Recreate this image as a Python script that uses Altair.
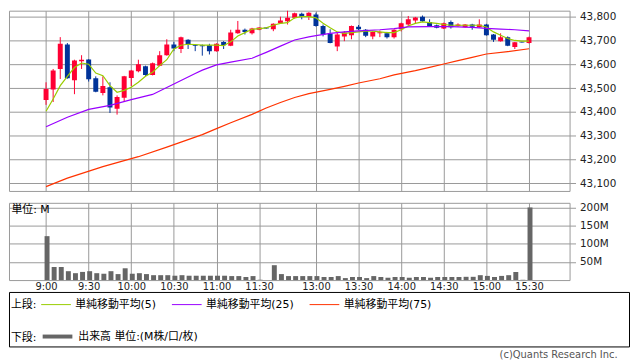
import json
import altair as alt
import pandas as pd

# ---------------- data ----------------
idx = list(range(69))
open_ = [43451, 43495, 43581, 43684, 43534, 43613, 43621, 43542, 43480, 43504,
         43414, 43460, 43543, 43571, 43592, 43556, 43595, 43639, 43684, 43665,
         43704, 43683, 43681, 43681, 43656, 43695, 43679, 43731, 43746, 43731,
         43746, 43755, 43748, 43773, 43782, 43796, 43813, 43801, 43810, 43762,
         43729, 43676, 43718, 43723, 43759, 43746, 43718, 43731, 43731, 43715,
         43748, 43768, 43785, 43801, 43779, 43765, 43751, 43779, 43762, 43757,
         43768, 43757, 43768, 43726, 43698, 43715, 43673, 43696, 43690]
high = [43525, 43581, 43715, 43690, 43620, 43639, 43622, 43550, 43550, 43525,
        43470, 43552, 43577, 43620, 43595, 43608, 43656, 43706, 43695, 43717,
        43706, 43684, 43684, 43687, 43689, 43698, 43746, 43783, 43751, 43754,
        43757, 43756, 43773, 43801, 43835, 43818, 43818, 43820, 43818, 43768,
        43748, 43734, 43740, 43764, 43766, 43749, 43739, 43743, 43737, 43748,
        43776, 43804, 43800, 43806, 43790, 43768, 43776, 43785, 43773, 43770,
        43771, 43790, 43771, 43728, 43731, 43718, 43695, 43696, 43717]
low = [43430, 43442, 43539, 43540, 43475, 43581, 43528, 43483, 43470, 43396,
       43389, 43442, 43509, 43567, 43552, 43554, 43593, 43637, 43656, 43648,
       43665, 43656, 43637, 43642, 43654, 43665, 43677, 43729, 43726, 43726,
       43744, 43750, 43740, 43771, 43768, 43793, 43790, 43787, 43759, 43718,
       43689, 43656, 43698, 43706, 43745, 43715, 43706, 43715, 43709, 43709,
       43739, 43762, 43771, 43779, 43759, 43752, 43749, 43751, 43759, 43755,
       43746, 43755, 43721, 43695, 43696, 43677, 43665, 43692, 43688]
close = [43497, 43575, 43687, 43542, 43617, 43620, 43538, 43485, 43509, 43419,
         43463, 43550, 43575, 43601, 43556, 43605, 43639, 43684, 43667, 43715,
         43684, 43679, 43677, 43656, 43687, 43681, 43734, 43746, 43737, 43751,
         43755, 43751, 43771, 43785, 43796, 43815, 43801, 43818, 43762, 43726,
         43690, 43726, 43734, 43762, 43748, 43721, 43737, 43735, 43715, 43746,
         43773, 43790, 43798, 43782, 43762, 43754, 43773, 43757, 43768, 43768,
         43759, 43768, 43723, 43704, 43715, 43679, 43693, 43692, 43715]
volume = [121, 36, 36, 24.5, 19, 22.5, 24.5, 19, 17.5, 24.5,
          16.5, 32.5, 17.5, 19, 16.5, 13.5, 13.5, 13.5, 12, 13.5,
          12, 12, 12, 12, 12, 12, 11, 11, 8.5, 11,
          0.8, 0, 41, 16.5, 11, 11, 11, 11, 11, 8.5,
          8.5, 11, 5.5, 8.5, 8.5, 5.5, 11, 8.5, 6.5, 8.5,
          8.5, 6.5, 8.5, 8.5, 6.5, 8.5, 8.5, 8.5, 8.5, 9,
          9, 13.5, 11.5, 8.5, 11.5, 13.5, 22, 0.8, 200]
ma5 = [43403, 43455, 43511, 43550, 43587, 43606, 43601, 43564, 43553, 43511,
       43483, 43491, 43504, 43525, 43550, 43567, 43595, 43620, 43665, 43681,
       43685, 43684, 43681, 43681, 43681, 43679, 43695, 43720, 43734, 43748,
       43751, 43754, 43765, 43773, 43776, 43796, 43801, 43801, 43796, 43773,
       43754, 43737, 43731, 43734, 43737, 43740, 43740, 43737, 43734, 43734,
       43746, 43762, 43773, 43779, 43776, 43773, 43768, 43765, 43765, 43765,
       43765, 43765, 43757, 43737, 43723, 43709, 43701, 43698, 43698]
ma25_idx = [0, 3, 6, 9, 12, 15, 18, 21, 22, 24, 26, 29, 31, 33, 35, 37, 38,
            40, 42, 44, 47, 49, 51, 54, 57, 60, 62, 64, 66, 68]
ma25 = [43338, 43378, 43411, 43428, 43452, 43474, 43518, 43562, 43576, 43598,
        43610, 43626, 43651, 43677, 43703, 43716, 43721, 43731, 43737, 43741,
        43746, 43751, 43758, 43759, 43759, 43756, 43752, 43749, 43746, 43741]
ma75_idx = [0, 3, 8, 13, 17, 22, 24, 26, 29, 31, 33, 35, 37, 40, 42, 44, 47,
            49, 52, 54, 56, 58, 60, 62, 65, 68]
ma75 = [43086, 43122, 43170, 43212, 43252, 43305, 43330, 43355, 43390, 43417,
        43440, 43461, 43477, 43495, 43508, 43522, 43540, 43556, 43574, 43588,
        43602, 43616, 43630, 43644, 43654, 43666]

tick_idx = [0, 6, 12, 18, 24, 30, 38, 44, 50, 56, 62, 68]
tick_labels = ["9:00", "9:30", "10:00", "10:30", "11:00", "11:30",
               "13:00", "13:30", "14:00", "14:30", "15:00", "15:30"]
price_ticks = [43100, 43200, 43300, 43400, 43500, 43600, 43700, 43800]
vol_ticks = [50, 100, 150, 200]
ma_names = ["単純移動平均(5)", "単純移動平均(25)", "単純移動平均(75)"]
ma_colors = ["#99CC00", "#9900FF", "#FF3300"]
vol_name = "出来高 単位:(M株/口/枚)"
up_color, down_color = "#FF0033", "#003399"

# ---------------- tables ----------------
cdf = pd.DataFrame({"idx": idx, "open": open_, "high": high, "low": low, "close": close})
cdf["col"] = [up_color if c >= o else down_color for o, c in zip(open_, close)]

vdf = pd.DataFrame({"idx": idx, "vol": volume})
vdf = vdf[vdf["vol"] > 0].copy()
vdf["kind"] = vol_name

madf = pd.concat([
    pd.DataFrame({"idx": idx, "val": ma5, "series": ma_names[0]}),
    pd.DataFrame({"idx": ma25_idx, "val": ma25, "series": ma_names[1]}),
    pd.DataFrame({"idx": ma75_idx, "val": ma75, "series": ma_names[2]}),
])

GRID = "#999999"
FONT = "DejaVu Sans"
JFONT = "DejaVu Sans, Noto Sans CJK JP"
W = 566
NBSP = "\u00a0"

xs = alt.Scale(domain=[-4.521, 73.014], nice=False, zero=False)
ys = alt.Scale(domain=[43067.9, 43826.25], nice=False, zero=False)
vys = alt.Scale(domain=[0, 212.8], nice=False, zero=False)

label_expr = "%s[indexof(%s, datum.value)]" % (json.dumps(tick_labels), json.dumps(tick_idx))
legend_label_expr = "datum.label == '%s' ? datum.label + '%s' : datum.label" % (
    ma_names[1], NBSP * 6)

# ---------------- upper panel ----------------
x_axis_up = alt.Axis(values=tick_idx, labels=False, ticks=False, domain=False,
                     grid=True, gridColor=GRID, title=None)
y_axis_up = alt.Axis(orient="right", values=price_ticks, format=",d", title=None,
                     domain=False, grid=True, gridColor=GRID, tickColor=GRID,
                     tickSize=6, labelPadding=4, labelFont=FONT, labelFontSize=10.5,
                     labelColor="#222222")

wick = alt.Chart(cdf).mark_rule(strokeWidth=1, clip=True).encode(
    x=alt.X("idx:Q", scale=xs, axis=x_axis_up),
    y=alt.Y("low:Q", scale=ys, axis=y_axis_up),
    y2="high:Q", color=alt.Color("col:N", scale=None))
body = alt.Chart(cdf).mark_bar(size=5, clip=True).encode(
    x=alt.X("idx:Q", scale=xs, axis=x_axis_up),
    y=alt.Y("open:Q", scale=ys, axis=y_axis_up),
    y2="close:Q", color=alt.Color("col:N", scale=None))
lines = alt.Chart(madf).mark_line(strokeWidth=1.2, clip=True).encode(
    x=alt.X("idx:Q", scale=xs, axis=x_axis_up),
    y=alt.Y("val:Q", scale=ys, axis=y_axis_up),
    order="idx:Q",
    stroke=alt.Stroke("series:N", scale=alt.Scale(domain=ma_names, range=ma_colors),
                      legend=alt.Legend(title="上段:", orient="none", legendX=2, legendY=281,
                                        direction="horizontal", titleOrient="left",
                                        titleAnchor="middle", titleBaseline="top",
                                        symbolType="stroke", symbolSize=900,
                                        symbolStrokeWidth=1, labelFont=JFONT, titleFont=JFONT,
                                        labelFontSize=11, titleFontSize=11,
                                        titleFontWeight="normal", columnPadding=13,
                                        titlePadding=4, labelOffset=4,
                                        labelExpr=legend_label_expr,
                                        labelColor="#000000", titleColor="#000000")))
upper = alt.layer(wick, body, lines).properties(
    width=W, height=182, view=alt.ViewBackground(stroke=GRID, strokeWidth=1))

# ---------------- lower panel ----------------
bars = alt.Chart(vdf).mark_bar(size=5, xOffset=1).encode(
    x=alt.X("idx:Q", scale=xs,
            axis=alt.Axis(values=tick_idx, labelExpr=label_expr, ticks=False, domain=False,
                          grid=True, gridColor=GRID, title=None, labelPadding=2,
                          labelFont=FONT, labelFontSize=10, labelColor="#222222")),
    y=alt.Y("vol:Q", scale=vys,
            axis=alt.Axis(orient="right", values=vol_ticks, labelExpr="datum.value + 'M'",
                          domain=False, grid=True, gridColor=GRID, tickColor=GRID, tickSize=6,
                          labelPadding=4, labelFont=FONT, labelFontSize=10.5,
                          labelColor="#222222",
                          title="単位: M", titleAngle=0, titleX=-W + 2, titleY=1,
                          titleAlign="left", titleBaseline="top", titleFont=JFONT,
                          titleFontSize=11, titleFontWeight="normal", titleColor="#000000")),
    fill=alt.Fill("kind:N", scale=alt.Scale(domain=[vol_name], range=["#666666"]),
                  legend=alt.Legend(title="下段:", orient="none", legendX=2, legendY=312,
                                    direction="horizontal", titleOrient="left",
                                    titleAnchor="middle", titleBaseline="top",
                                    symbolType="stroke", symbolSize=900,
                                    symbolStrokeWidth=4, symbolStrokeColor="#666666",
                                    labelFont=JFONT, titleFont=JFONT,
                                    labelFontSize=11, titleFontSize=11,
                                    titleFontWeight="normal", titlePadding=4, labelOffset=4,
                                    labelColor="#000000", titleColor="#000000")))
lower = bars.properties(width=W, height=78,
                        view=alt.ViewBackground(stroke=GRID, strokeWidth=1))

# ---------------- legend frame ----------------
frame = alt.Chart(pd.DataFrame({"a": [0]})).mark_text(text="").properties(
    width=626, height=55, view=alt.ViewBackground(stroke="#000000", strokeWidth=1))

chart = alt.vconcat(upper, lower, frame, spacing=12, bounds="flush").resolve_scale(
    stroke="shared", fill="shared").resolve_legend(stroke="shared", fill="shared").properties(
    padding=0,
    title=alt.TitleParams(text="(c)Quants Research Inc.", orient="bottom", anchor="end",
                          fontSize=10, fontWeight="normal", color="#555555", font=FONT,
                          dx=-12, offset=3),
)

chart.save("out.html", embed_options={"renderer": "svg", "actions": False})
